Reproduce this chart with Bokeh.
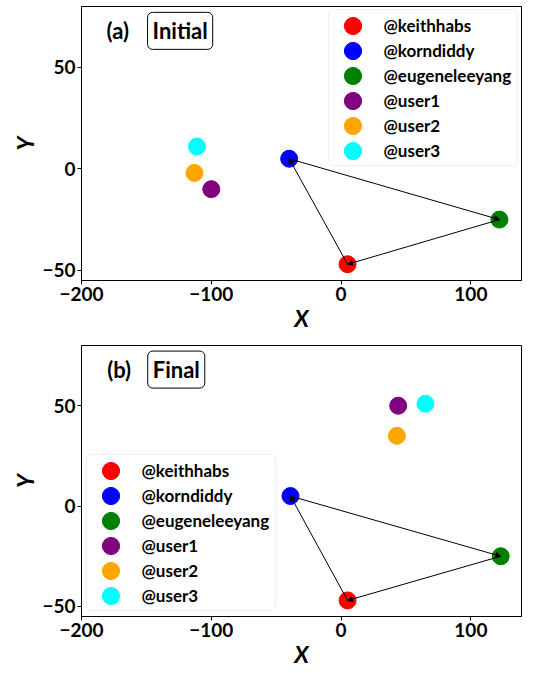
from bokeh.plotting import figure
from bokeh.models import (Range1d, Legend, LegendItem, Label, Arrow, NormalHead,
                          ColumnDataSource, BoxAnnotation)
from bokeh.layouts import column
from bokeh.embed import file_html
from bokeh.resources import INLINE

users = ["@keithhabs", "@korndiddy", "@eugeneleeyang", "@user1", "@user2", "@user3"]
colors = ["red", "blue", "green", "purple", "orange", "cyan"]
init_x = [5, -40, 122, -100, -113, -111]
init_y = [-47, 5, -25, -10, -2, 11]
final_x = [5, -39, 123, 44, 43, 65]
final_y = [-47, 5, -25, 50, 35, 51]
edges = [(0, 1), (1, 2), (2, 0)]
x_ticks = [-200, -100, 0, 100]
y_ticks = [-50, 0, 50]

FONT = "Lato"
GLYPH = 43          # legend glyph box -> marker size 0.4*43 ~ 17px
ROW = 25            # legend row step


def make(xs, ys, tag, title, tag_x, title_x, lab_y, leg_cx, leg_first_from_top,
         border_left, border_top, frame_h):
    p = figure(frame_width=440, frame_height=frame_h, x_range=Range1d(-200, 139), y_range=Range1d(-55, 80),
               output_backend="svg", toolbar_location=None,
               min_border_left=border_left, min_border_right=5, min_border_top=border_top,
               min_border_bottom=0)
    p.grid.visible = False
    p.outline_line_color = "black"
    p.outline_line_width = 1
    p.xaxis.ticker = x_ticks
    p.yaxis.ticker = y_ticks
    for ax in (p.xaxis, p.yaxis):
        ax.minor_tick_line_color = None
        ax.major_tick_in = 0
        ax.major_tick_out = 4
        ax.major_label_standoff = 2
        ax.major_label_text_font = FONT
        ax.major_label_text_font_style = "bold"
        ax.major_label_text_font_size = "19px"
        ax.major_label_text_color = "black"
        ax.axis_label_text_font = FONT
        ax.axis_label_text_font_style = "bold italic"
        ax.axis_label_text_font_size = "23px"
        ax.axis_label_text_color = "black"
        ax.axis_line_color = "black"
        ax.major_tick_line_color = "black"
        ax.axis_label_standoff = 0
    p.xaxis.axis_label = "X"
    p.yaxis.axis_label = "Y"

    rends = []
    for i, u in enumerate(users):
        r = p.scatter([xs[i]], [ys[i]], size=17, color=colors[i], line_color=colors[i])
        rends.append(r)

    src = ColumnDataSource(dict(
        x0=[xs[a] for a, b in edges], y0=[ys[a] for a, b in edges],
        x1=[xs[b] for a, b in edges], y1=[ys[b] for a, b in edges]))
    p.add_layout(Arrow(source=src, x_start="x0", y_start="y0", x_end="x1", y_end="y1",
                       line_color="black", line_width=1,
                       end=NormalHead(size=5, fill_color="black", line_color="black", line_width=1)))

    # legend frame
    first_cy = frame_h - leg_first_from_top
    last_cy = first_cy - ROW * (len(users) - 1)
    p.add_layout(BoxAnnotation(left=leg_cx - 24, right=leg_cx + 165,
                               top=first_cy + 16, bottom=last_cy - 15,
                               left_units="screen", right_units="screen",
                               top_units="screen", bottom_units="screen",
                               fill_color="white", fill_alpha=0.8,
                               line_color="#cccccc", line_width=1, border_radius=4))
    # one legend per row so the markers can be large while rows stay 25px apart
    for i, u in enumerate(users):
        cy = first_cy - ROW * i
        leg = Legend(items=[LegendItem(label=u, renderers=[rends[i]])],
                     location=(leg_cx - GLYPH / 2, cy - GLYPH / 2),
                     margin=0, padding=0, spacing=0,
                     glyph_height=GLYPH, glyph_width=GLYPH, label_standoff=10,
                     label_text_font=FONT, label_text_font_style="bold", label_text_font_size="17px",
                     label_text_color="black",
                     border_line_color=None, background_fill_alpha=0)
        p.add_layout(leg, "center")

    p.add_layout(Label(x=tag_x, y=lab_y, text=tag, text_align="center", text_baseline="middle",
                       text_font=FONT, text_font_style="bold", text_font_size="22px", text_color="black"))
    p.add_layout(Label(x=title_x, y=lab_y, text=title, text_align="center", text_baseline="middle",
                       text_font=FONT, text_font_style="bold", text_font_size="22px", text_color="black",
                       border_line_color="black", border_line_width=1, background_fill_color="white",
                       padding=5, border_radius=5))
    return p


p1 = make(init_x, init_y, "(a)", "Initial", -172, -124, 68, 271, 19, 81, 6, 274)
p2 = make(final_x, final_y, "(b)", "Final", -171, -127, 68, 29, 125, 77, 11, 271)

layout = column(p1, p2, spacing=0)
open("out.html", "w").write(file_html(layout, INLINE))
